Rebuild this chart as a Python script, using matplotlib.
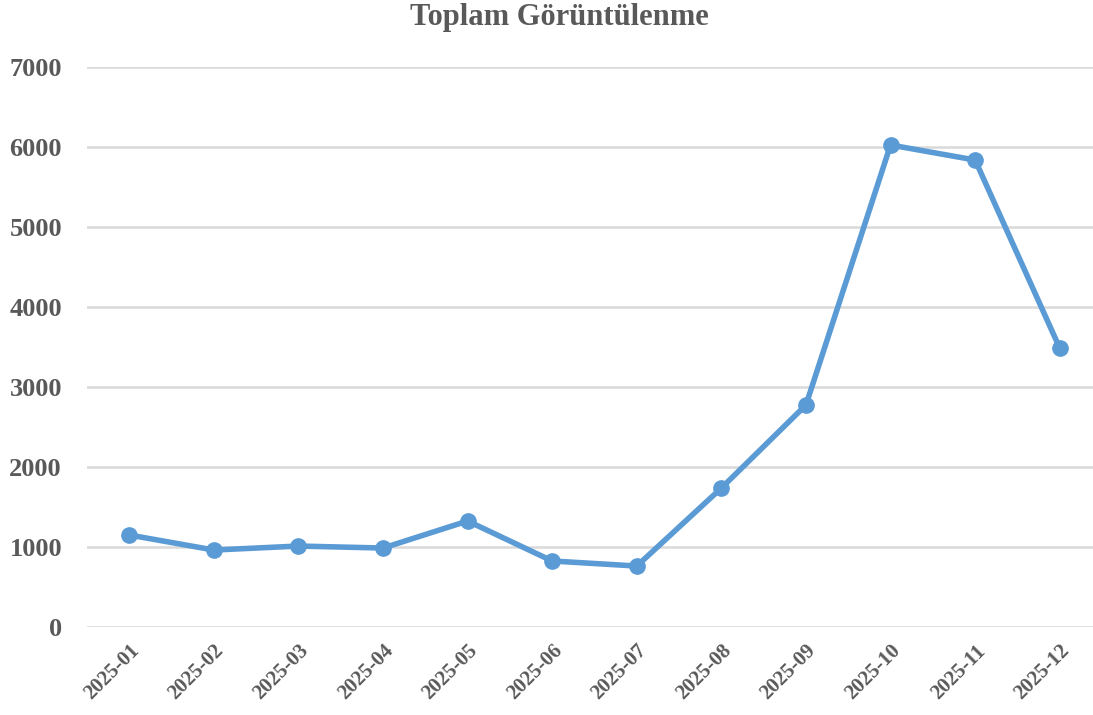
import matplotlib
matplotlib.use("Agg")
import matplotlib.pyplot as plt

months = ["2025-01", "2025-02", "2025-03", "2025-04", "2025-05", "2025-06",
          "2025-07", "2025-08", "2025-09", "2025-10", "2025-11", "2025-12"]
views = [1150, 962, 1012, 987, 1325, 825, 762, 1737, 2775, 6025, 5837, 3487]
title = "Toplam Görüntülenme"

text_color = "#595959"
line_color = "#5B9BD5"
grid_color = "#D9D9D9"
font = ["Liberation Serif", "DejaVu Serif"]

W, H = 1093, 715
fig = plt.figure(figsize=(W / 100, H / 100), dpi=100)
left_px, right_px, top_px, bottom_px = 87, 1102, 67, 627
ax = fig.add_axes([left_px / W, 1 - bottom_px / H, (right_px - left_px) / W, (bottom_px - top_px) / H])

x = list(range(len(months)))
ax.plot(x, views, color=line_color, lw=4.0, marker="o", ms=11, solid_capstyle="round", zorder=3)

ax.set_xlim(-0.5, len(months) - 0.5)
ax.set_ylim(0, 7000)
ax.set_yticks(range(0, 7001, 1000))
ax.set_xticks(x)
ax.set_xticklabels(months, rotation=45, ha="right", rotation_mode="anchor",
                   fontsize=15, fontweight="bold", color=text_color, family=font)
for lab in ax.get_yticklabels():
    lab.set_fontsize(19)
    lab.set_fontweight("bold")
    lab.set_color(text_color)
    lab.set_family(font)

ax.grid(axis="y", color=grid_color, lw=1.8)
ax.set_axisbelow(True)
for s in ax.spines.values():
    s.set_visible(False)
ax.tick_params(axis="both", length=0)
ax.tick_params(axis="y", pad=18)
ax.tick_params(axis="x", pad=10)

fig.text(559 / W, 1 - 18 / H, title, ha="center", va="center", fontsize=22,
         fontweight="bold", color=text_color, family=font)

fig.savefig("out.png", dpi=100)
